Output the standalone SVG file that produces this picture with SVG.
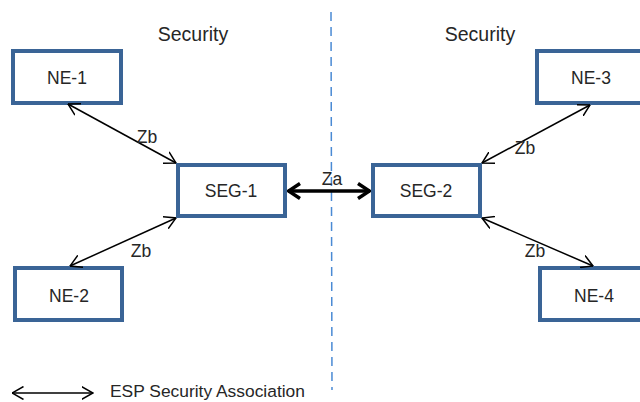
<svg xmlns="http://www.w3.org/2000/svg" width="640" height="402" viewBox="0 0 640 402">
<style>
.box{fill:#fff;stroke:#3A6496;stroke-width:4}
.t{font-family:"Liberation Sans",Arial,sans-serif;font-size:17.5px;fill:#262626;text-anchor:middle}
.thin{stroke:#000;stroke-width:1.5;fill:none}
.thick{stroke:#000;stroke-width:3.5;fill:none}
</style>
<defs>
<marker id="v" viewBox="0 0 12 14" refX="11.5" refY="7" markerWidth="12" markerHeight="14" markerUnits="userSpaceOnUse" orient="auto-start-reverse">
<path d="M0,0.5 L11.5,7 L0,13.5" fill="none" stroke="#000" stroke-width="1.5"/>
</marker>
<marker id="vb" viewBox="0 0 14 18" refX="13" refY="9" markerWidth="14" markerHeight="18" markerUnits="userSpaceOnUse" orient="auto-start-reverse">
<path d="M1,1.5 L12.5,9 L1,16.5" fill="none" stroke="#000" stroke-width="3.5"/>
</marker>
</defs>
<rect width="640" height="402" fill="#fff"/>
<line x1="331" y1="12" x2="332" y2="390" stroke="#4A8AD4" stroke-width="1.5" stroke-dasharray="9,6"/>
<text class="t" x="193" y="41" style="font-size:19.5px">Security</text>
<text class="t" x="480" y="41" style="font-size:19.5px">Security</text>
<g id="NE-1"><rect class="box" x="13" y="51" width="108" height="52"/><text class="t" x="67" y="84">NE-1</text></g>
<g id="NE-2"><rect class="box" x="15" y="268" width="107" height="52"/><text class="t" x="69" y="302">NE-2</text></g>
<g id="SEG-1"><rect class="box" x="178" y="165" width="107" height="51"/><text class="t" x="231" y="197">SEG-1</text></g>
<g id="SEG-2"><rect class="box" x="373" y="165" width="107" height="51"/><text class="t" x="426" y="197">SEG-2</text></g>
<g id="NE-3"><rect class="box" x="537" y="51" width="108" height="52"/><text class="t" x="591" y="84">NE-3</text></g>
<g id="NE-4"><rect class="box" x="540" y="268" width="108" height="52"/><text class="t" x="594" y="302">NE-4</text></g>
<g id="connectors">
<line class="thin" x1="68" y1="104" x2="176" y2="163" marker-start="url(#v)" marker-end="url(#v)"/>
<line class="thin" x1="176" y1="218" x2="70" y2="266" marker-start="url(#v)" marker-end="url(#v)"/>
<line class="thin" x1="482" y1="163" x2="590" y2="105" marker-start="url(#v)" marker-end="url(#v)"/>
<line class="thin" x1="482" y1="218" x2="593" y2="266" marker-start="url(#v)" marker-end="url(#v)"/>
<line class="thick" x1="288" y1="191" x2="370" y2="191" marker-start="url(#vb)" marker-end="url(#vb)"/>
<text class="t" x="147" y="143">Zb</text>
<text class="t" x="141" y="257">Zb</text>
<text class="t" x="525" y="154">Zb</text>
<text class="t" x="535" y="257">Zb</text>
<text class="t" x="332" y="185">Za</text>
</g>
<g id="legend">
<line class="thin" x1="12" y1="393" x2="93" y2="393" marker-start="url(#v)" marker-end="url(#v)"/>
<text class="t" x="110" y="397" style="text-anchor:start;font-size:17.4px">ESP Security Association</text>
</g>
</svg>
